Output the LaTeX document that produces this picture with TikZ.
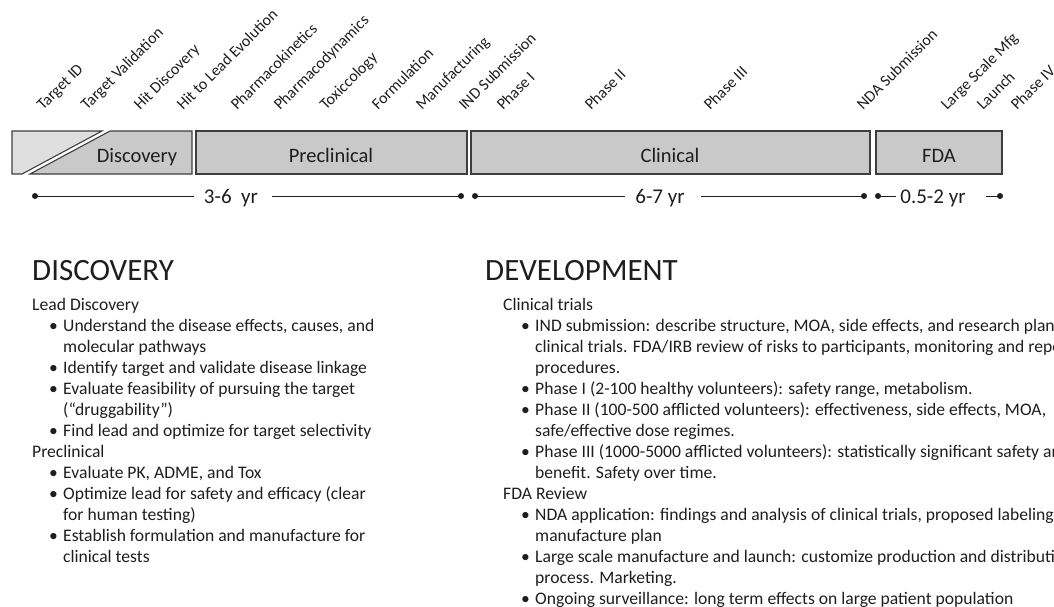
\documentclass[tikz,border=0pt]{standalone}
\usepackage{fontspec}
\setmainfont{Carlito}
\usetikzlibrary{positioning}
\definecolor{boxgray}{RGB}{201,201,201}
\definecolor{palegray}{RGB}{223,223,223}
\definecolor{edgegray}{RGB}{62,62,62}
\definecolor{inkgray}{RGB}{30,30,30}
\tikzset{
  phase/.style={draw=edgegray, line width=1.1pt, fill=boxgray},
  phaselabel/.style={font=\fontsize{20.5}{24}\selectfont, text=inkgray, inner sep=0, anchor=base},
  milestone/.style={font=\fontsize{16}{18}\selectfont, text=inkgray, inner sep=0, anchor=base west, rotate=45},
  span/.style={line width=1pt, draw=inkgray},
  spanlabel/.style={font=\fontsize{21}{24}\selectfont, text=inkgray, inner sep=0, anchor=base},
  heading/.style={font=\fontsize{31}{34}\selectfont, text=inkgray, inner sep=0, anchor=base west},
  body/.style={font=\fontsize{17.6}{21}\selectfont, text=inkgray, inner sep=0, anchor=base west},
}
\begin{document}
\begin{tikzpicture}[x=1pt,y=-1pt]
    \useasboundingbox (0,0) rectangle (1054,606);
    \clip (0,0) rectangle (1054,606);

    % Milestones along the top
    \node[milestone] (m1) at (43,111) {Target ID};
    \node[milestone] (m2) at (87,111) {Target Validation};
    \node[milestone] (m3) at (140,111) {Hit Discovery};
    \node[milestone] (m4) at (183,111) {Hit to Lead Evolution};
    \node[milestone] (m5) at (237,111) {Pharmacokinetics};
    \node[milestone] (m6) at (280,111) {Pharmacodynamics};
    \node[milestone] (m7) at (326,111) {Toxiccology};
    \node[milestone] (m8) at (378,111) {Formulation};
    \node[milestone] (m9) at (422,111) {Manufacturing};
    \node[milestone] (m10) at (465,111) {IND Submission};
    \node[milestone] (m11) at (503,111) {Phase I};
    \node[milestone] (m12) at (591,111) {Phase II};
    \node[milestone] (m13) at (710,111) {Phase III};
    \node[milestone] (m14) at (863,111) {NDA Submission};
    \node[milestone] (m15) at (947,111) {Large Scale Mfg};
    \node[milestone] (m16) at (983,111) {Launch};
    \node[milestone] (m17) at (1017,111) {Phase IV};

    % Phase bar
    \draw[phase, fill=palegray] (12,131) -- (102,131) -- (22,174) -- (12,174) -- cycle;
    \draw[phase] (110,131) -- (192,131) -- (192,174) -- (30,174) -- cycle;
    \draw[phase] (196,131) rectangle (467,174);
    \draw[phase] (471,131) rectangle (870,174);
    \draw[phase] (876,131) rectangle (1002,174);
    \node[phaselabel] (discovery) at (137,162) {Discovery};
    \node[phaselabel] (preclinical) at (331,162) {Preclinical};
    \node[phaselabel] (clinical) at (670,162) {Clinical};
    \node[phaselabel] (fda) at (939,162) {FDA};

    % Durations
    \coordinate (a0) at (35,196);
    \coordinate (a1) at (461,196);
    \coordinate (b0) at (475,196);
    \coordinate (b1) at (864,196);
    \coordinate (c0) at (878,196);
    \coordinate (c1) at (1000,196);
    \node[spanlabel] (yrs1) at (231,203) {3-6~~yr};
    \node[spanlabel] (yrs2) at (660,203) {6-7 yr};
    \node[spanlabel] (yrs3) at (933,203) {0.5-2 yr};
    \coordinate (a0e) at ([xshift=-10pt]yrs1.west);
    \coordinate (a1e) at ([xshift=14pt]yrs1.east);
    \coordinate (b0e) at ([xshift=-10pt]yrs2.west);
    \coordinate (b1e) at ([xshift=16pt]yrs2.east);
    \coordinate (c0e) at ([xshift=-4pt]yrs3.west);
    \coordinate (c1e) at ([xshift=20pt]yrs3.east);
    \draw[span] (a0) -- (a0e |- a0);
    \draw[span] (a1) -- (a1e |- a1);
    \draw[span] (b0) -- (b0e |- b0);
    \draw[span] (b1) -- (b1e |- b1);
    \draw[span] (c0) -- (c0e |- c0);
    \draw[span] (c1) -- (c1e |- c1);
    \foreach \p in {a0,a1,b0,b1,c0,c1}
        \fill[inkgray] (\p) circle (3pt);

    % Discovery column
    \node[heading] (disc) at (32,280) {DISCOVERY};
    \node[body] (l0) at (32,310) {Lead Discovery};
    \node[body] (l1) at (63,331) {Understand the disease effects, causes, and};
    \node[body] (l2) at (63,352) {molecular pathways};
    \node[body] (l3) at (63,373) {Identify target and validate disease linkage};
    \node[body] (l4) at (63,394) {Evaluate feasibility of pursuing the target};
    \node[body] (l5) at (63,415) {(“druggability”)};
    \node[body] (l6) at (63,436) {Find lead and optimize for target selectivity};
    \node[body] (l7) at (32,457) {Preclinical};
    \node[body] (l8) at (63,478) {Evaluate PK, ADME, and Tox};
    \node[body] (l9) at (63,499) {Optimize lead for safety and efficacy (clear};
    \node[body] (l10) at (63,520) {for human testing)};
    \node[body] (l11) at (63,541) {Establish formulation and manufacture for};
    \node[body] (l12) at (63,562) {clinical tests};
    \foreach \l in {l1,l3,l4,l6,l8,l9,l11}
        \node[body, anchor=base east] at ([xshift=-5pt]\l.base west) {•};

    % Development column
    \node[heading] (dev) at (485,280) {DEVELOPMENT};
    \node[body] (r0) at (503,310) {Clinical trials};
    \node[body] (r1) at (535,331) {IND submission: describe structure, MOA, side effects, and research plans for};
    \node[body] (r2) at (535,352) {clinical trials. FDA/IRB review of risks to participants, monitoring and reporting};
    \node[body] (r3) at (535,373) {procedures.};
    \node[body] (r4) at (535,394) {Phase I (2-100 healthy volunteers): safety range, metabolism.};
    \node[body] (r5) at (535,415) {Phase II (100-500 afflicted volunteers): effectiveness, side effects, MOA,};
    \node[body] (r6) at (535,436) {safe/effective dose regimes.};
    \node[body] (r7) at (535,457) {Phase III (1000-5000 afflicted volunteers): statistically significant safety and};
    \node[body] (r8) at (535,478) {benefit. Safety over time.};
    \node[body] (r9) at (503,499) {FDA Review};
    \node[body] (r10) at (535,520) {NDA application: findings and analysis of clinical trials, proposed labeling and};
    \node[body] (r11) at (535,541) {manufacture plan};
    \node[body] (r12) at (535,562) {Large scale manufacture and launch: customize production and distribution};
    \node[body] (r13) at (535,583) {process. Marketing.};
    \node[body] (r14) at (535,604) {Ongoing surveillance: long term effects on large patient population};
    \foreach \l in {r1,r4,r5,r7,r10,r12,r14}
        \node[body, anchor=base east] at ([xshift=-5pt]\l.base west) {•};
\end{tikzpicture}
\end{document}
